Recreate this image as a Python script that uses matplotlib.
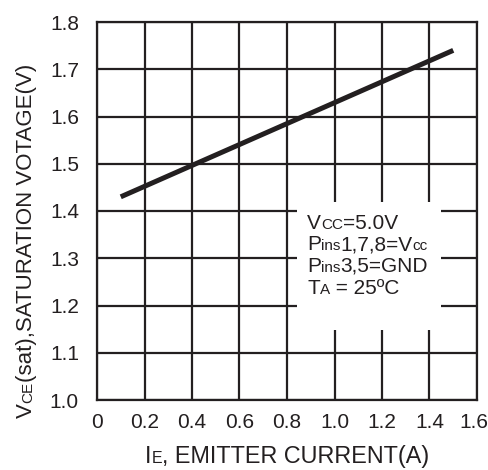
import matplotlib
matplotlib.use('Agg')
from matplotlib import pyplot as plt
from matplotlib.patches import Rectangle
from matplotlib.transforms import offset_copy, IdentityTransform, ScaledTranslation

# data
current = [0.1, 1.5]
vce_sat = [1.43, 1.74]
x_ticks = [0, 0.2, 0.4, 0.6, 0.8, 1.0, 1.2, 1.4, 1.6]
x_tick_labels = ['0', '0.2', '0.4', '0.6', '0.8', '1.0', '1.2', '1.4', '1.6']
y_ticks = [1.0, 1.1, 1.2, 1.3, 1.4, 1.5, 1.6, 1.7, 1.8]
note_lines = [
    [('V', 'big'), ('CC', 'small'), ('=5.0V', 'big')],
    [('P', 'big'), ('ins', 'small'), ('1,7,8=V', 'big'), ('cc', 'small')],
    [('P', 'big'), ('ins', 'small'), ('3,5=GND', 'big')],
    [('T', 'big'), ('A', 'small'), (' = 25ºC', 'big')],
]
xlabel_parts = [('I', 'big'), ('E', 'small'), (', EMITTER CURRENT(A)', 'big')]
ylabel_parts = [('V', 'big'), ('CE', 'small'), ('(sat),SATURATION VOTAGE(V)', 'big')]

INK = '#231f20'
plt.rcParams['font.family'] = ['Liberation Sans', 'DejaVu Sans']
plt.rcParams['text.color'] = INK

fig = plt.figure(figsize=(4.89, 4.70), dpi=100)
ax = fig.add_axes([97 / 489, 1 - 400 / 470, 380 / 489, 378 / 470])

ax.plot(current, vce_sat, color=INK, lw=3.6, solid_capstyle='butt', zorder=4)
ax.set_xlim(0, 1.6)
ax.set_ylim(1.0, 1.8)
ax.set_xticks(x_ticks, x_tick_labels)
ax.set_yticks(y_ticks, [f'{v:.1f}' for v in y_ticks])
ax.tick_params(length=0, labelsize=15, colors=INK)
ax.tick_params(axis='x', pad=9)
ax.tick_params(axis='y', pad=13)
ax.grid(True, color=INK, lw=1.6)
ax.set_axisbelow(True)
for s in ax.spines.values():
    s.set_linewidth(1.6)
    s.set_color(INK)
    s.set_zorder(5)

# keep the last x label inside the figure
last = ax.get_xticklabels()[-1]
last.set_transform(last.get_transform() + ScaledTranslation(-3 / 100, 0, fig.dpi_scale_trans))

# white box behind the test conditions
ax.add_patch(Rectangle((0.842, 1.148), 0.606, 0.271, facecolor='white',
                       edgecolor='none', zorder=3))

renderer = fig.canvas.get_renderer()


def rich_text(x, y, parts, size_map, rotation=0):
    # x, y in figure pixels (origin top left)
    t = offset_copy(IdentityTransform(), fig=fig, x=0, y=0, units='dots')
    px, py = x, 470 - y
    for s, kind in parts:
        txt = fig.text(px, py, s, transform=t, fontsize=size_map[kind],
                       rotation=rotation, rotation_mode='anchor',
                       ha='left', va='baseline', color=INK, zorder=6)
        ex = txt.get_window_extent(renderer)
        if rotation == 90:
            py += ex.height
        else:
            px += ex.width


note_sizes = {'big': 15, 'small': 11}
for i, line in enumerate(note_lines):
    rich_text(307, 229 + i * 21.5, line, note_sizes)

rich_text(145, 463, xlabel_parts, {'big': 16.8, 'small': 11.5})
rich_text(32, 418, ylabel_parts, {'big': 16, 'small': 11}, rotation=90)

fig.savefig('out.png', dpi=100)
